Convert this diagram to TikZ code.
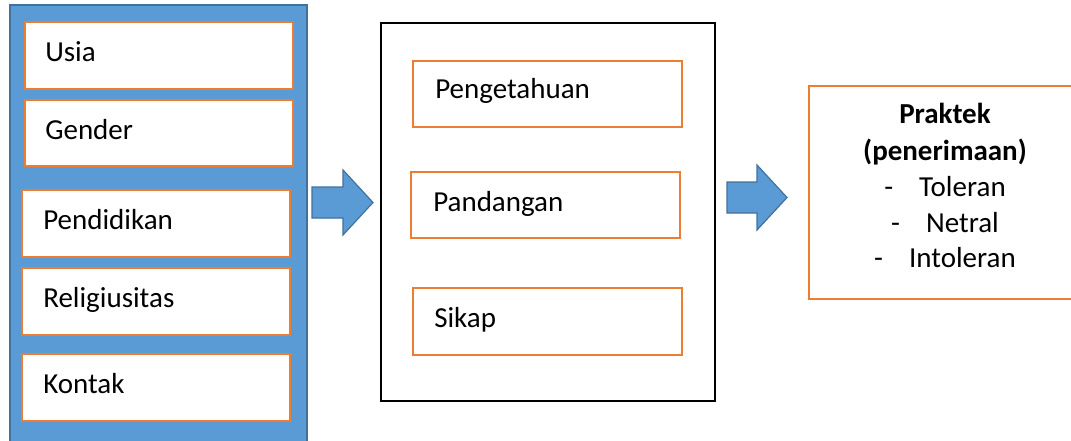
\documentclass[tikz,border=0pt]{standalone}
\usepackage{fontspec}
\setmainfont{Carlito}
\definecolor{bfill}{HTML}{5B9BD5}
\definecolor{bline}{HTML}{41719C}
\definecolor{org}{HTML}{ED7D31}
\begin{document}
\begin{tikzpicture}[x=0.75pt,y=-0.75pt,
  obox/.style={draw=org,line width=1.5pt,fill=white,inner sep=0pt},
  panel/.style={fill=bfill,draw=bline,line width=1.2pt,inner sep=0pt},
  frame/.style={draw=black,line width=1.5pt,fill=white,inner sep=0pt},
  lbl/.style={anchor=base west,inner sep=0pt,font=\fontsize{21.75}{26}\selectfont},
  clbl/.style={anchor=base,inner sep=0pt,font=\fontsize{21.75}{26}\selectfont},
  barrow/.style={fill=bfill,draw=bline,line width=0.9pt,line join=miter}]
\useasboundingbox (0,0) rectangle (1071,440);
\clip (0,0) rectangle (1071,440);
% left panel
\node[panel,minimum width=297*0.75pt,minimum height=455*0.75pt] (panel) at (158.5,232.5) {};
\node[obox,minimum width=268*0.75pt,minimum height=67*0.75pt] (usia) at (159,55.5) {};
\node[obox,minimum width=268*0.75pt,minimum height=66*0.75pt] (gender) at (159,133) {};
\node[obox,minimum width=268*0.75pt,minimum height=67*0.75pt] (pend) at (156,223.5) {};
\node[obox,minimum width=268*0.75pt,minimum height=67*0.75pt] (rel) at (156,301.5) {};
\node[obox,minimum width=268*0.75pt,minimum height=67*0.75pt] (kon) at (156,387.5) {};
\node[lbl] (tusia) at (45,61.5) {Usia};
\node[lbl] (tgender) at (45,139) {Gender};
\node[lbl] (tpend) at (43,229.5) {Pendidikan};
\node[lbl] (trel) at (43,307.5) {Religiusitas};
\node[lbl] (tkon) at (43,393.5) {Kontak};
% middle
\node[frame,minimum width=334*0.75pt,minimum height=378*0.75pt] (mid) at (548,212) {};
\node[obox,minimum width=269*0.75pt,minimum height=66*0.75pt] (peng) at (547.5,94) {};
\node[obox,minimum width=269*0.75pt,minimum height=66*0.75pt] (pand) at (545.5,205) {};
\node[obox,minimum width=269*0.75pt,minimum height=67*0.75pt] (sik) at (547.5,321.5) {};
\node[lbl] (tpeng) at (435,98.5) {Pengetahuan};
\node[lbl] (tpand) at (433,211) {Pandangan};
\node[lbl] (tsik) at (434,327.5) {Sikap};
% right
\node[obox,minimum width=281*0.75pt,minimum height=213*0.75pt] (prak) at (949.5,192.5) {};
\node[clbl,font=\fontsize{21.75}{26}\selectfont\bfseries] (t1) at (945,123) {Praktek};
\node[clbl,font=\fontsize{21.75}{26}\selectfont\bfseries] (t2) at (945,160) {(penerimaan)};
\node[clbl] (t3) at (945,196) {-\hspace{19.5pt}Toleran};
\node[clbl] (t4) at (945,232.5) {-\hspace{19.5pt}Netral};
\node[clbl] (t5) at (945,267.5) {-\hspace{19.5pt}Intoleran};
% block arrows
\draw[barrow] (312,187) -- (343,187) -- (343,170) -- (373,202.5) -- (343,235) -- (343,218) -- (312,218) -- cycle;
\draw[barrow] (727,182) -- (757,182) -- (757,165) -- (787,197.5) -- (757,230) -- (757,213) -- (727,213) -- cycle;
\end{tikzpicture}
\end{document}
